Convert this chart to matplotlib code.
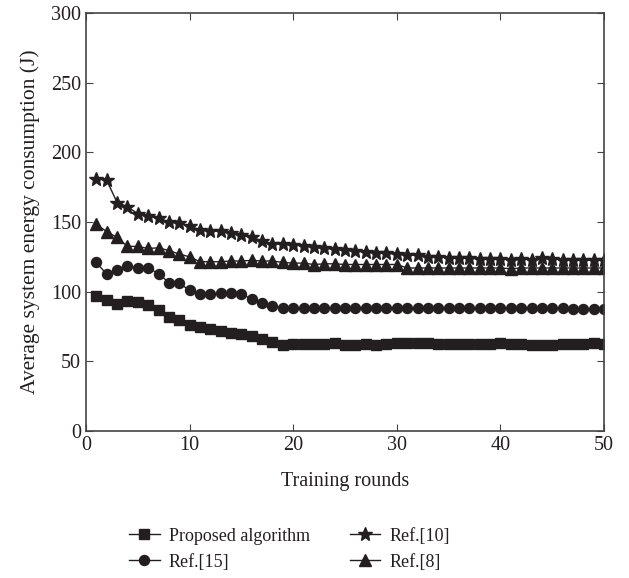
import matplotlib
matplotlib.use("Agg")
import matplotlib.pyplot as plt

# Шрифт с засечками, как в оригинале
plt.rcParams['font.family'] = ['Liberation Serif', 'DejaVu Serif']
plt.rcParams['font.size'] = 14

rounds = list(range(1, 51))

proposed = [97, 94, 91, 93.5, 92.5, 90.5, 87, 81.5, 80, 76,
            74.5, 73.5, 72, 70.5, 69.5, 68.5, 66, 64, 62, 62.2,
            62.3, 62.8, 62.8, 63.3, 61.7, 61.7, 62.2, 61.7, 62.2, 63.3,
            63.3, 63.3, 63.3, 62.5, 62.5, 62.5, 62.5, 62.5, 62.8, 63.3,
            62.2, 62.2, 61.7, 61.7, 61.7, 62.2, 62.2, 62.5, 63.3, 62.8]

ref15 = [121, 112.5, 115.5, 118.5, 117, 117, 113, 106.5, 106, 101,
         98.5, 98.5, 99, 99, 98.5, 94.5, 92, 89.5, 88.5, 88,
         88, 88, 88.3, 88, 88.3, 88, 88, 88, 88, 88,
         88, 88, 88, 88, 88, 88, 88, 88, 88, 88,
         88, 88, 88, 88, 88, 88, 87.5, 87.5, 87.5, 87.5]

ref10 = [181, 180, 164, 161, 156, 154, 153, 150, 149.5, 147,
         144.5, 143.5, 143.5, 142, 140.5, 139, 136.5, 134.5, 134, 133.5,
         133, 132, 131, 130.5, 130, 129, 128.5, 128, 127.5, 127,
         126.5, 126, 125, 125, 124.5, 124, 124, 123.5, 123.5, 123.5,
         123, 123.5, 123, 124, 123.5, 123, 123, 123, 122.5, 122.5]

ref8 = [148.5, 143, 139, 132.5, 132.5, 131, 131.5, 129.5, 127, 125,
        121.5, 121.5, 121.5, 122, 122, 122.5, 122, 122, 121, 120.5,
        120.5, 119.5, 120, 120, 119.5, 119.5, 119.5, 119.5, 119.5, 119.5,
        117, 117, 117, 117, 117, 117, 117, 117, 117, 117,
        116.5, 117, 117, 117, 117, 117, 117, 117, 117, 117]

ink = '#231f20'

fig = plt.figure(figsize=(6.29, 5.78), dpi=100)
ax = fig.add_axes([0.1367, 0.2543, 0.8236, 0.7232])

l1, = ax.plot(rounds, proposed, color=ink, lw=1, marker='s', ms=6.8, label='Proposed algorithm')
l2, = ax.plot(rounds, ref15, color=ink, lw=1, marker='o', ms=7.2, label='Ref.[15]')
l3, = ax.plot(rounds, ref10, color=ink, lw=1, marker='*', ms=10, label='Ref.[10]')
l4, = ax.plot(rounds, ref8, color=ink, lw=1, marker='^', ms=8, label='Ref.[8]')

ax.set_xlim(0, 50)
ax.set_ylim(0, 300)
ax.set_xticks([0, 10, 20, 30, 40, 50])
ax.set_yticks([0, 50, 100, 150, 200, 250, 300])
ax.tick_params(direction='in', top=True, right=True, length=5, colors='#444444',
               labelcolor=ink, labelsize=14.5)
for sp in ax.spines.values():
    sp.set_color('#444444')
    sp.set_linewidth(1.2)

ax.set_xlabel('Training rounds', fontsize=14.5, color=ink, labelpad=12)
ax.set_ylabel('Average system energy consumption (J)', fontsize=15.5, color=ink, labelpad=8)

fig.legend(handles=[l1, l2, l3, l4], ncol=2, frameon=False, fontsize=13,
           loc='center', bbox_to_anchor=(0.46, 0.05), handlelength=1.7,
           handletextpad=0.5, columnspacing=2.2, labelspacing=0.5, labelcolor=ink)

fig.savefig('out.png', dpi=100)
